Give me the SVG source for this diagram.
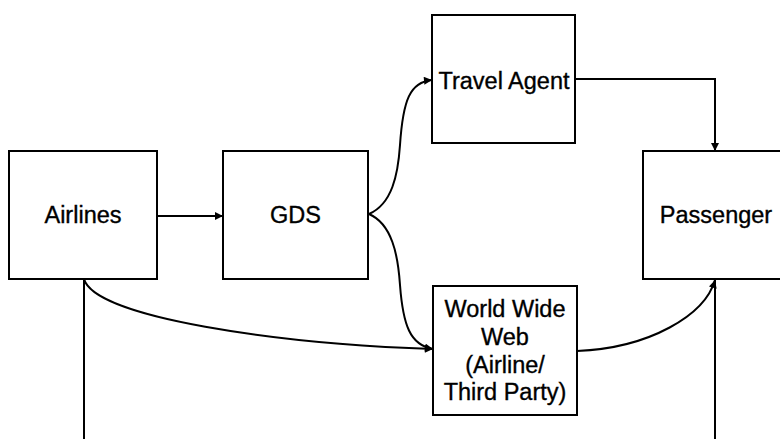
<svg xmlns="http://www.w3.org/2000/svg" width="780" height="439" viewBox="0 0 780 439">
<style>
.box{fill:#fff;stroke:#000;stroke-width:2}
.lbl{font-family:"Liberation Sans",Arial,sans-serif;font-size:23.5px;fill:#000;stroke:#000;stroke-width:0.35;text-anchor:middle}
.con{fill:none;stroke:#000;stroke-width:2}
</style>
<defs>
<marker id="ah" viewBox="0 0 10 10" refX="10" refY="5" markerWidth="9" markerHeight="8" markerUnits="userSpaceOnUse" orient="auto">
<path d="M0,0 L10,5 L0,10 Z" fill="#000"/>
</marker>
</defs>
<rect width="780" height="439" fill="#fff"/>
<g id="connectors">
<path class="con" d="M157,216 H223" marker-end="url(#ah)"/>
<path class="con" d="M369,214 C392,204 398,175 400,145 C403,100 410,82 432,80" marker-end="url(#ah)"/>
<path class="con" d="M369,214 C392,224 398,255 400,285 C403,325 410,345 433,349" marker-end="url(#ah)"/>
<path class="con" d="M575,79 H715 V151" marker-end="url(#ah)"/>
<path class="con" d="M84,279 C95,318 280,344 433,349" marker-end="url(#ah)"/>
<path class="con" d="M84,279 V439"/>
<path class="con" d="M577,351 C650,348 705,315 715,280" marker-end="url(#ah)"/>
<path class="con" d="M715,439 V280"/>
</g>
<g id="airlines">
<rect class="box" x="9" y="151" width="148" height="128"/>
<text class="lbl" x="83" y="223">Airlines</text>
</g>
<g id="gds">
<rect class="box" x="223" y="151" width="145" height="128"/>
<text class="lbl" x="295.5" y="223">GDS</text>
</g>
<g id="travel-agent">
<rect class="box" x="432" y="15" width="143" height="128"/>
<text class="lbl" x="504" y="89">Travel Agent</text>
</g>
<g id="passenger">
<rect class="box" x="643" y="151" width="150" height="128"/>
<text class="lbl" x="716" y="223">Passenger</text>
</g>
<g id="www">
<rect class="box" x="433" y="286" width="144" height="129"/>
<text class="lbl" x="505" y="317">World Wide</text>
<text class="lbl" x="505" y="345">Web</text>
<text class="lbl" x="505" y="373">(Airline/</text>
<text class="lbl" x="505" y="400">Third Party)</text>
</g>
</svg>
